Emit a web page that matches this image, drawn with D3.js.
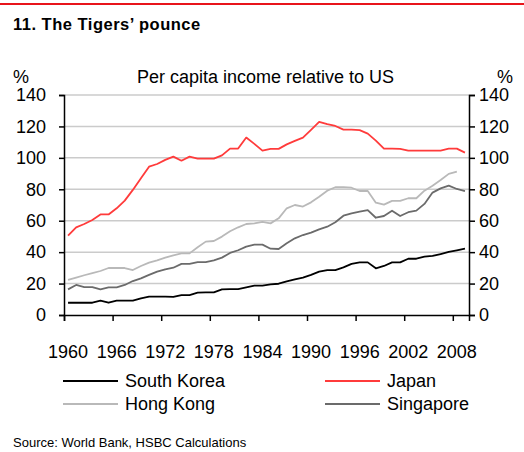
<!DOCTYPE html>
<html>
<head>
<meta charset="utf-8">
<script src="https://cdn.jsdelivr.net/npm/d3@7"></script>
<style>
  body { margin: 0; background: #fff; }
  svg { display: block; font-family: "Liberation Sans", Arial, sans-serif; }
</style>
</head>
<body>
<div id="chart"></div>
<script>
// Per capita income relative to US (%), 1960-2009
let firstYear = 1960;
let yearLabels = ["1960", "1966", "1972", "1978", "1984", "1990", "1996", "2002", "2008"];
let yTicks = [0, 20, 40, 60, 80, 100, 120, 140];

let southKorea = [7.8, 7.8, 7.8, 7.8, 9.1, 7.8, 9.1, 9.1, 9.1, 10.6, 11.7, 11.7, 11.7,
  11.5, 12.7, 12.7, 14.2, 14.4, 14.4, 16.3, 16.5, 16.5, 17.6, 18.7, 18.7, 19.5,
  19.9, 21.4, 22.7, 23.8, 25.5, 27.6, 28.6, 28.6, 30.3, 32.5, 33.5, 33.5, 29.7,
  31.2, 33.5, 33.5, 35.8, 35.8, 37.1, 37.6, 38.8, 40.1, 41.2, 42.2];
let japan = [50.5, 55.8, 57.9, 60.5, 64, 64, 67.9, 72.8, 79.6, 87, 94.4, 96.1, 98.7,
  100.8, 98.2, 100.8, 99.5, 99.5, 99.5, 101.6, 105.9, 105.9, 112.9, 108.9, 104.6, 105.7,
  105.7, 108.6, 110.8, 112.9, 117.8, 122.9, 121.4, 120.3, 118, 118, 117.6, 115.4, 111,
  105.9, 105.9, 105.7, 104.6, 104.6, 104.6, 104.6, 104.6, 105.9, 105.9, 103.3];
let hongKong = [22.3, 23.8, 25.3, 26.7, 28, 29.9, 29.9, 29.9, 28.6, 31.2, 33.3, 34.8, 36.5,
  38, 39.2, 39.2, 43.1, 46.7, 47.1, 49.9, 53.3, 55.8, 57.9, 58.3, 59.2, 58.3,
  61.5, 67.9, 70, 69, 71.7, 75.3, 79.1, 81.3, 81.3, 81, 78.9, 78.9, 71.5,
  70.2, 72.6, 72.6, 74.3, 74.3, 79.1, 82.3, 85.9, 89.8, 91.2];
let singapore = [16.3, 19.1, 17.8, 17.8, 16.3, 17.6, 17.6, 19.1, 21.6, 23.3, 25.5, 27.6, 29.1,
  30.1, 32.5, 32.5, 33.7, 33.7, 34.8, 36.5, 39.5, 41.2, 43.5, 44.8, 44.8, 42.2,
  42, 45.6, 48.8, 50.9, 52.4, 54.5, 56.2, 59, 63.2, 64.7, 65.8, 66.8, 61.9,
  63, 66.4, 63, 65.4, 66.4, 70.7, 77.9, 80.6, 82.3, 80.2, 78.9];

let nYears = 50;

let series = [
  { name: "Hong Kong", values: hongKong, color: "#b9b9b9" },
  { name: "Singapore", values: singapore, color: "#6b6b6b" },
  { name: "South Korea", values: southKorea, color: "#000000" },
  { name: "Japan", values: japan, color: "#ff3b3b" }
];

let width = 524, height = 452;

let svg = d3.select("#chart").append("svg")
  .attr("width", width)
  .attr("height", height);

// top red rule
svg.append("line")
  .attr("x1", 0).attr("x2", width)
  .attr("y1", 4).attr("y2", 4)
  .attr("stroke", "#e8141b").attr("stroke-width", 2);

svg.append("text")
  .attr("x", 13).attr("y", 30)
  .attr("font-size", 16.5).attr("font-weight", "bold")
  .attr("letter-spacing", 0.5)
  .text("11. The Tigers\u2019 pounce");

svg.append("text").attr("x", 13).attr("y", 83).attr("font-size", 18).text("%");
svg.append("text").attr("x", 497).attr("y", 83).attr("font-size", 18).text("%");
svg.append("text").attr("x", 137).attr("y", 83).attr("font-size", 18)
  .text("Per capita income relative to US");

// scales: category axis, points at category centres
let x = d3.scaleLinear().domain([0, nYears]).range([64, 469]);
let y = d3.scaleLinear().domain([0, 140]).range([315, 95]);

// gridlines
svg.append("g").selectAll("line")
  .data(yTicks.filter(d => d > 0))
  .join("line")
  .attr("x1", x(0)).attr("x2", x(nYears))
  .attr("y1", d => y(d)).attr("y2", d => y(d))
  .attr("stroke", "#cbcbcb").attr("stroke-width", 1.5);

// lines
let line = d3.line()
  .x((d, i) => x(i + 0.5))
  .y(d => y(d));

svg.append("g").selectAll("path")
  .data(series)
  .join("path")
  .attr("d", d => line(d.values))
  .attr("fill", "none")
  .attr("stroke", d => d.color)
  .attr("stroke-width", 1.8)
  .attr("stroke-linejoin", "round");

// axes
let leftAxis = svg.append("g")
  .attr("transform", "translate(" + x(0) + ",0)")
  .call(d3.axisLeft(y).tickValues(yTicks).tickSize(5).tickPadding(13));
let rightAxis = svg.append("g")
  .attr("transform", "translate(" + x(nYears) + ",0)")
  .call(d3.axisRight(y).tickValues(yTicks).tickSize(6).tickPadding(4));
let bottomAxis = svg.append("g")
  .attr("transform", "translate(0," + y(0) + ")")
  .call(d3.axisBottom(x).tickValues(yearLabels.map((d, i) => i * 6)).tickSize(6).tickFormat(""));

[leftAxis, rightAxis, bottomAxis].forEach(a => {
  a.select(".domain").attr("stroke", "#000").attr("stroke-width", 1.5);
  a.selectAll(".tick line").attr("stroke", "#000").attr("stroke-width", 1.5);
  a.selectAll("text").attr("font-size", 18).attr("font-family", "Liberation Sans, Arial, sans-serif").attr("fill", "#000");
});

// year labels under category centres
svg.append("g").selectAll("text")
  .data(yearLabels)
  .join("text")
  .attr("x", (d, i) => x(i * 6 + 0.5))
  .attr("y", 358)
  .attr("text-anchor", "middle")
  .attr("font-size", 18)
  .text(d => d);

// legend
let legendItems = [
  { name: "South Korea", color: "#000000", lx: 63, ly: 381 },
  { name: "Japan", color: "#ff3b3b", lx: 325, ly: 381 },
  { name: "Hong Kong", color: "#b9b9b9", lx: 63, ly: 404 },
  { name: "Singapore", color: "#6b6b6b", lx: 325, ly: 404 }
];
let legend = svg.append("g").selectAll("g")
  .data(legendItems)
  .join("g")
  .attr("transform", d => "translate(" + d.lx + "," + d.ly + ")");
legend.append("line")
  .attr("x1", 0).attr("x2", 55)
  .attr("stroke", d => d.color).attr("stroke-width", 1.8);
legend.append("text")
  .attr("x", 62).attr("y", 6)
  .attr("font-size", 18)
  .text(d => d.name);

svg.append("text")
  .attr("x", 13).attr("y", 447)
  .attr("font-size", 13)
  .text("Source: World Bank, HSBC Calculations");
</script>
</body>
</html>
